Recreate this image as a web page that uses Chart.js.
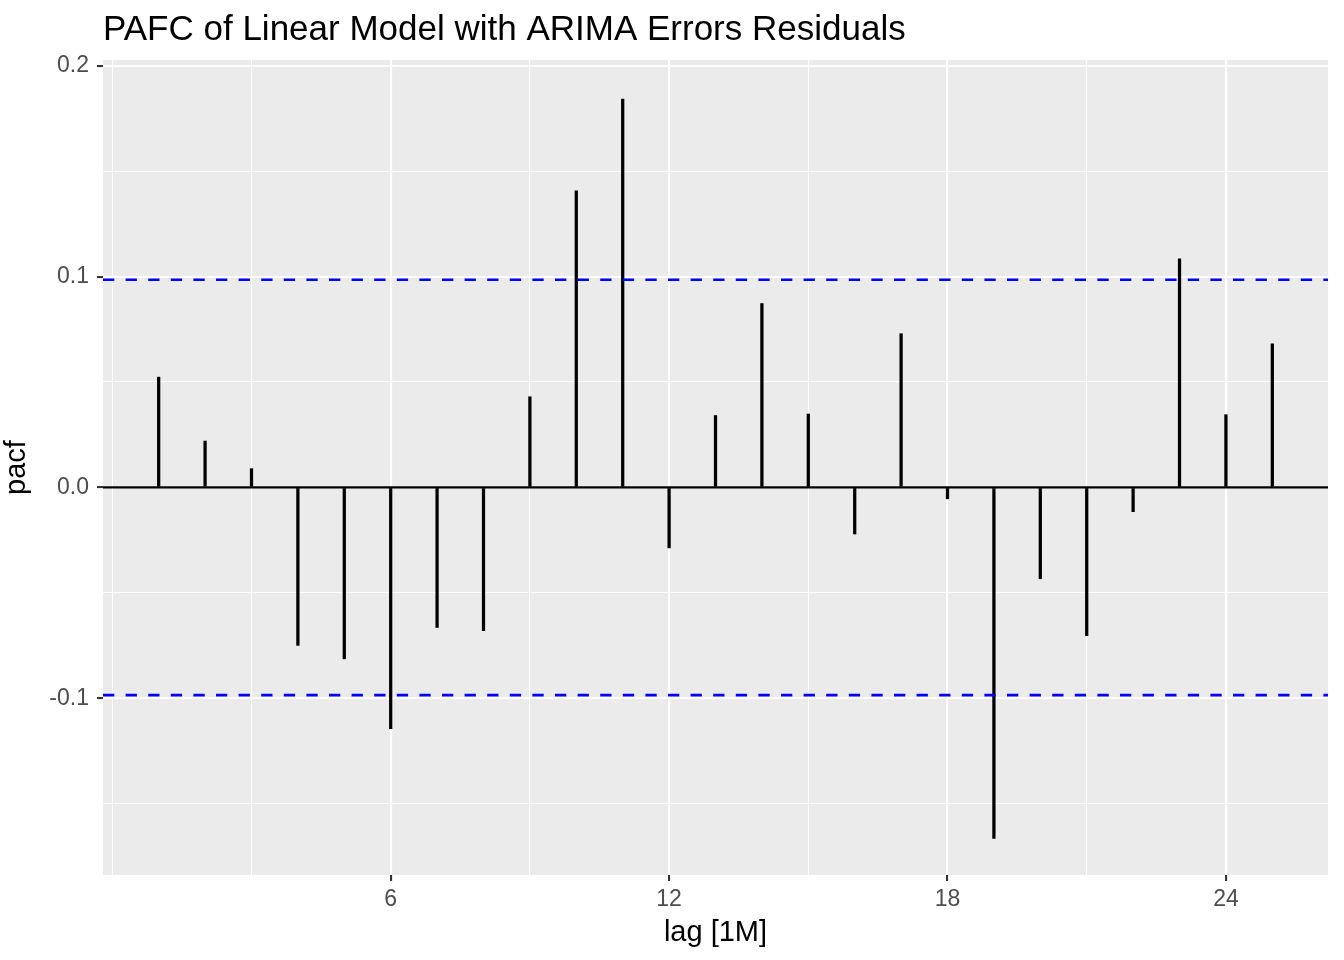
<!DOCTYPE html>
<html>
<head>
<meta charset="utf-8">
<script src="https://cdn.jsdelivr.net/npm/chart.js@4.4.0/dist/chart.umd.min.js"></script>
<style>
  html, body { margin: 0; padding: 0; background: #fff; }
  #wrap { width: 1344px; height: 960px; }
</style>
</head>
<body>
<div id="wrap"><canvas id="pacfChart" width="1344" height="960"></canvas></div>
<script>
// lags and PACF values
const lags = [1, 2, 3, 4, 5, 6, 7, 8, 9, 10, 11, 12, 13, 14, 15, 16, 17, 18, 19, 20, 21, 22, 23, 24, 25];
const pacf = [0.0523, 0.0220, 0.0089, -0.0749, -0.0813, -0.1144, -0.0664, -0.0679, 0.0430, 0.1406,
              0.1842, -0.0287, 0.0341, 0.0872, 0.0348, -0.0221, 0.0729, -0.0054, -0.1665, -0.0433,
              -0.0703, -0.0115, 0.1084, 0.0345, 0.0681];
const ciLevel = 0.0985; // blue dashed bounds (+/-)

// axis breaks
const xMajor = [6, 12, 18, 24];
const xMinor = [0, 3, 9, 15, 21];
const yMajor = [-0.1, 0, 0.1, 0.2];
const yMinor = [-0.15, -0.05, 0.05, 0.15];
const xRange = [-0.2, 26.2];
const yRange = [-0.1838, 0.2027];

const FONT = "'Liberation Sans', Arial, Helvetica, sans-serif";

const isMajor = (list, v) => list.some(m => Math.abs(m - v) < 1e-9);
const tickVal = c => (c && c.tick) ? c.tick.value : NaN;

// grey panel + title, ggplot style
const panelBg = {
    id: 'panelBg',
    beforeDraw(chart) {
        const { ctx, chartArea: a } = chart;
        ctx.save();
        ctx.fillStyle = '#EBEBEB';
        ctx.fillRect(a.left, a.top, a.right - a.left, a.bottom - a.top);
        ctx.restore();
    },
    afterDraw(chart) {
        const { ctx, chartArea: a } = chart;
        ctx.save();
        ctx.fillStyle = '#000';
        ctx.font = '35px ' + FONT;
        ctx.textBaseline = 'alphabetic';
        ctx.textAlign = 'left';
        ctx.fillText('PAFC of Linear Model with ARIMA Errors Residuals', a.left, 40);
        ctx.restore();
    }
};

const hline = (y, color, width, dash) => ({
    type: 'line',
    data: [{ x: xRange[0], y }, { x: xRange[1], y }],
    borderColor: color,
    borderWidth: width,
    borderDash: dash,
    pointRadius: 0,
    fill: false,
    order: 0
});

const ctx = document.getElementById('pacfChart').getContext('2d');
new Chart(ctx, {
    type: 'bar',
    data: {
        datasets: [
            {
                type: 'bar',
                data: lags.map((l, i) => ({ x: l, y: pacf[i] })),
                backgroundColor: '#000',
                borderWidth: 0,
                barThickness: 2.6,
                order: 1
            },
            hline(0, '#000', 2.3, []),
            hline(ciLevel, '#0000FF', 2.6, [11.3, 11.3]),
            hline(-ciLevel, '#0000FF', 2.6, [11.3, 11.3])
        ]
    },
    options: {
        responsive: false,
        animation: false,
        layout: { padding: { top: 60, right: 16, bottom: 0, left: 0 } },
        plugins: {
            legend: { display: false },
            tooltip: { enabled: false },
            title: { display: false }
        },
        scales: {
            x: {
                type: 'linear',
                min: xRange[0],
                max: xRange[1],
                offset: false,
                afterBuildTicks: axis => {
                    axis.ticks = [...xMinor, ...xMajor].sort((a, b) => a - b).map(v => ({ value: v }));
                },
                afterFit: scale => { scale.height = 85; },
                border: { display: false },
                grid: {
                    offset: false,
                    color: '#FFFFFF',
                    lineWidth: c => isMajor(xMajor, tickVal(c)) ? 2.1 : 1.05,
                    drawTicks: true,
                    tickLength: 6,
                    tickWidth: 2.1,
                    tickColor: c => isMajor(xMajor, tickVal(c)) ? '#333333' : 'rgba(0,0,0,0)'
                },
                ticks: {
                    autoSkip: false,
                    maxRotation: 0,
                    padding: 5,
                    color: '#4D4D4D',
                    font: { family: FONT, size: 23 },
                    callback: v => isMajor(xMajor, v) ? String(v) : ''
                },
                title: {
                    display: true,
                    text: 'lag [1M]',
                    color: '#000',
                    font: { family: FONT, size: 29 },
                    padding: { top: 0, bottom: 10 }
                }
            },
            y: {
                type: 'linear',
                min: yRange[0],
                max: yRange[1],
                afterBuildTicks: axis => {
                    axis.ticks = [...yMinor, ...yMajor].sort((a, b) => a - b).map(v => ({ value: v }));
                },
                afterFit: scale => { scale.width = 103; },
                border: { display: false },
                grid: {
                    color: '#FFFFFF',
                    lineWidth: c => isMajor(yMajor, tickVal(c)) ? 2.1 : 1.05,
                    drawTicks: true,
                    tickLength: 6,
                    tickWidth: 2.1,
                    tickColor: c => isMajor(yMajor, tickVal(c)) ? '#333333' : 'rgba(0,0,0,0)'
                },
                ticks: {
                    autoSkip: false,
                    padding: 8,
                    color: '#4D4D4D',
                    font: { family: FONT, size: 23 },
                    callback: v => isMajor(yMajor, v) ? v.toFixed(1) : ''
                },
                title: {
                    display: true,
                    text: 'pacf',
                    color: '#000',
                    font: { family: FONT, size: 29 },
                    padding: { top: 0, bottom: 11 }
                }
            }
        }
    },
    plugins: [panelBg]
});
</script>
</body>
</html>
